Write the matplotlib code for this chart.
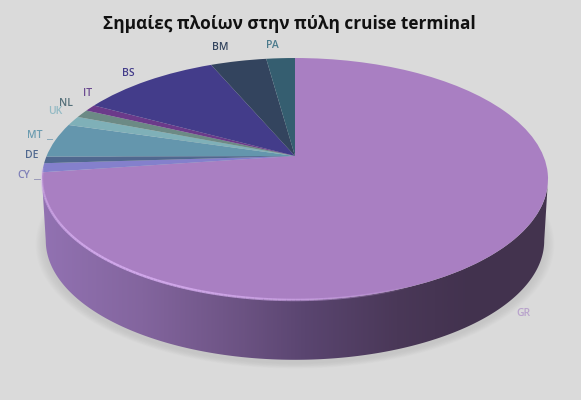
import numpy as np
import matplotlib
matplotlib.use("Agg")
import matplotlib.pyplot as plt
from matplotlib.transforms import Transform
from matplotlib.patches import Polygon
from matplotlib.colors import LinearSegmentedColormap
from matplotlib.collections import LineCollection

title = "Σημαίες πλοίων στην πύλη cruise terminal"
flags = ["GR", "CY", "DE", "MT", "UK", "NL", "IT", "BS", "BM", "PA"]
shares = [72.9, 1.2, 0.9, 4.6, 1.3, 1.1, 0.9, 10.7, 4.3, 2.2]
slice_colors = ["#A97FC2", "#8480CC", "#50688F", "#6496AD", "#7FB0B8",
                "#6C8A85", "#6B3A8A", "#433C8A", "#33445E", "#355E70"]
label_colors = ["#B9A3CC", "#7F80B8", "#50688F", "#6C9CB0", "#93BAC4",
                "#55707A", "#6B4A90", "#433C8A", "#33445E", "#4A7A8C"]
label_xy = [(523, 314), (24, 176), (32, 156), (35, 135), (55, 111),
            (66, 103), (88, 93), (128, 74), (220, 47), (272, 46)]

BG = "#DADADA"
CX, CY, A, B, K = 295.0, 156.0, 248.4, 116.6, 0.19
DEPTH = 62.0


class Persp(Transform):
    input_dims = 2
    output_dims = 2
    is_affine = False

    def __init__(self, dy=0.0, scale=1.0):
        super().__init__()
        self.dy, self.scale = dy, scale

    def transform_non_affine(self, values):
        v = np.asarray(values, float)
        w = 1 + K * v[:, 1]
        return np.column_stack([CX + self.scale * A * v[:, 0] / w,
                                CY + self.dy - self.scale * B * v[:, 1] / w])


fig = plt.figure(figsize=(5.81, 4.0), dpi=100, facecolor=BG)
ax = fig.add_axes([0, 0, 1, 1])

wedges, _ = ax.pie(shares, colors=slice_colors, startangle=90, counterclock=False,
                   radius=1, center=(0, 0))
ax.set_aspect("auto")
ax.set_xlim(0, 581)
ax.set_ylim(400, 0)
ax.axis("off")

top = Persp()
bottom = Persp(DEPTH, 0.985)
for w in wedges:
    w.set_transform(top + ax.transData)
    w.set_edgecolor("none")
    w.set_antialiased(True)
    w.set_zorder(5)

t = np.linspace(0, 2 * np.pi, 721)
circle = np.column_stack([np.cos(t), np.sin(t)])
start = np.arcsin(-K)
tf = np.linspace(np.pi - start, 2 * np.pi + start, 361)
front = np.column_stack([np.cos(tf), np.sin(tf)])
ptop = top.transform_non_affine(front)
pbot = bottom.transform_non_affine(front)

# soft shadow
for i, grow in enumerate(np.linspace(10, 1, 8)):
    sh = Persp(DEPTH + 3, 0.985 + grow / 253)
    ax.add_patch(Polygon(sh.transform_non_affine(circle), closed=True, fc="#A8A8A8",
                         ec="none", alpha=0.05, zorder=1))

# rim with horizontal shading
rim_poly = Polygon(np.vstack([ptop, pbot[::-1]]), closed=True, fc="none", ec="none",
                   transform=ax.transData, zorder=2)
ax.add_patch(rim_poly)
cmap = LinearSegmentedColormap.from_list(
    "rim", [(0.0, "#9272B2"), (0.2, "#83659E"), (0.4, "#6B5282"), (0.52, "#5A4570"),
            (0.7, "#4A3858"), (0.85, "#42324E"), (1.0, "#44344F")])
im = ax.imshow(np.linspace(0, 1, 512)[None, :], cmap=cmap, extent=(40, 550, 400, 0),
               aspect="auto", zorder=3)
im.set_clip_path(rim_poly)
ax.set_xlim(0, 581)
ax.set_ylim(400, 0)

# bevel highlight along the front edge
tb = np.linspace(np.pi + 0.1, 2 * np.pi - 0.05, 200)
edge = top.transform_non_affine(np.column_stack([np.cos(tb), np.sin(tb)]))
segs = np.stack([edge[:-1], edge[1:]], axis=1)
fade = np.clip(1 - (tb[:-1] - np.pi) / (0.62 * np.pi), 0, 1)
cols = np.zeros((len(segs), 4))
cols[:, :3] = matplotlib.colors.to_rgb("#D8AEF2")
cols[:, 3] = 0.85 * np.sin(np.pi * fade) ** 0.7
ax.add_collection(LineCollection(segs, colors=cols, linewidths=1.8, zorder=6))

for name, col, (x, y) in zip(flags, label_colors, label_xy):
    ax.text(x, y, name, color=col, fontsize=7.5, family="Open Sans", fontweight="semibold",
            ha="center", va="center", zorder=7)

ax.plot([34, 40], [179, 179], color="#9A9AB8", lw=0.7, zorder=7)
ax.plot([47, 52], [139, 139], color="#8AA8B8", lw=0.7, zorder=7)

ax.text(289, 24, title, color="#111111", fontsize=12.4, family="Open Sans",
        fontweight="bold", ha="center", va="center", zorder=7)

fig.savefig("out.png", dpi=100, facecolor=BG)
